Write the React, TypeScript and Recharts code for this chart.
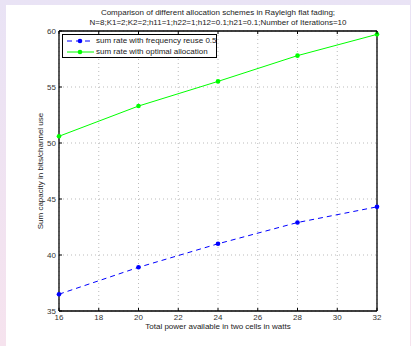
import React from 'react';
import { LineChart, Line, XAxis, YAxis, CartesianGrid } from 'recharts';

const powers = [16, 20, 24, 28, 32];
const reuseRates = [36.5, 38.9, 41.0, 42.9, 44.3];
const optimalRates = [50.6, 53.3, 55.5, 57.8, 59.7];
const xTicks = [16, 18, 20, 22, 24, 26, 28, 30, 32];
const yTicks = [35, 40, 45, 50, 55, 60];
const reuseName = 'sum rate with frequency reuse 0.5';
const optimalName = 'sum rate with optimal allocation';
const titleLine1 = 'Comparison of different allocation schemes in Rayleigh flat fading;';
const titleLine2 = 'N=8;K1=2;K2=2;h11=1;h22=1;h12=0.1;h21=0.1;Number of Iterations=10';
const xLabel = 'Total power available in two cells in watts';
const yLabel = 'Sum capacity in bits/channel use';

const data = powers.map((p, i) => ({ power: p, reuse: reuseRates[i], optimal: optimalRates[i] }));

const FONT = '"Liberation Sans", Arial, sans-serif';
const TM = 3;

const BottomTick = (props: any) => {
  const { x, y, payload } = props;
  const ay = y - TM;
  return (
    <g>
      <line x1={x} x2={x} y1={ay} y2={ay - 3} stroke="#000" strokeWidth={1} />
      <text x={x} y={y + 6} textAnchor="middle" fontSize={8} fill="#333" fontFamily={FONT}>{payload.value}</text>
    </g>
  );
};
const LeftTick = (props: any) => {
  const { x, y, payload } = props;
  const ax = x + TM;
  return (
    <g>
      <line x1={ax} x2={ax + 3} y1={y} y2={y} stroke="#000" strokeWidth={1} />
      <text x={x} y={y + 3} textAnchor="end" fontSize={8} fill="#333" fontFamily={FONT}>{payload.value}</text>
    </g>
  );
};
const TopTick = (props: any) => {
  const { x, y } = props;
  const ay = y + TM;
  return <line x1={x} x2={x} y1={ay} y2={ay + 3} stroke="#000" strokeWidth={1} />;
};
const RightTick = (props: any) => {
  const { x, y } = props;
  const ax = x - TM;
  return <line x1={ax} x2={ax - 3} y1={y} y2={y} stroke="#000" strokeWidth={1} />;
};

const LegendBox = () => (
  <div style={{ position: 'absolute', top: 34, left: 62, width: 153, height: 22, border: '1.3px solid #000', background: '#fff', fontFamily: FONT, fontSize: 8, color: '#222' }}>
    <svg width={30} height={22} style={{ position: 'absolute', left: 3, top: 0 }}>
      <line x1={1} x2={28} y1={6} y2={6} stroke="#0000ff" strokeWidth={1} strokeDasharray="5 4" />
      <circle cx={14} cy={6} r={2.3} fill="#0000ff" />
      <line x1={1} x2={28} y1={17} y2={17} stroke="#00ff00" strokeWidth={1} />
      <circle cx={14} cy={17} r={2.3} fill="#00ff00" />
    </svg>
    <div style={{ position: 'absolute', left: 33, top: 1, whiteSpace: 'nowrap', lineHeight: '10px' }}>{reuseName}</div>
    <div style={{ position: 'absolute', left: 33, top: 12, whiteSpace: 'nowrap', lineHeight: '10px' }}>{optimalName}</div>
  </div>
);

export default function App() {
  return (
    <div style={{ position: 'absolute', left: 0, top: 0, width: 411, height: 346, background: 'linear-gradient(to bottom, #e9e3f5, #f6e3ee)', overflow: 'hidden' }}>
      <div style={{ position: 'absolute', left: 6, top: 5, width: 404, height: 341, background: '#fff' }} />
      <div style={{ position: 'absolute', left: 0, top: 0 }}>
        <LineChart width={411} height={346} data={data} margin={{ top: 30, right: 33, left: 21, bottom: 5 }}>
          <CartesianGrid stroke="#aaa" strokeDasharray="1 3" strokeWidth={0.8} />
          <XAxis dataKey="power" type="number" domain={[16, 32]} ticks={xTicks} height={30} tickSize={0} tickMargin={TM}
            axisLine={{ stroke: '#000', strokeWidth: 1.3 }} tickLine={false} tick={<BottomTick />} interval={0}
            label={{ value: xLabel, position: 'center', fontSize: 8, fill: '#222', fontFamily: FONT }} />
          <XAxis xAxisId="top" orientation="top" dataKey="power" type="number" domain={[16, 32]} ticks={xTicks} height={1} tickSize={0} tickMargin={TM}
            axisLine={{ stroke: '#000', strokeWidth: 1.3 }} tickLine={false} tick={<TopTick />} interval={0} />
          <YAxis type="number" domain={[35, 60]} ticks={yTicks} width={38} tickSize={0} tickMargin={TM}
            axisLine={{ stroke: '#000', strokeWidth: 1.3 }} tickLine={false} tick={<LeftTick />} interval={0}
            label={{ value: yLabel, angle: -90, position: 'center', fontSize: 8, fill: '#222', fontFamily: FONT }} />
          <YAxis yAxisId="right" orientation="right" type="number" domain={[35, 60]} ticks={yTicks} width={1} tickSize={0} tickMargin={TM}
            axisLine={{ stroke: '#000', strokeWidth: 1.3 }} tickLine={false} tick={<RightTick />} interval={0} />
          <Line dataKey="reuse" name={reuseName} stroke="#0000ff" strokeWidth={1} strokeDasharray="5 4" isAnimationActive={false}
            dot={{ r: 2.3, fill: '#0000ff', stroke: '#0000ff', strokeWidth: 0 }} />
          <Line dataKey="optimal" name={optimalName} stroke="#00ff00" strokeWidth={1} isAnimationActive={false}
            dot={{ r: 2.3, fill: '#00ff00', stroke: '#00ff00', strokeWidth: 0 }} />
        </LineChart>
      </div>
      <LegendBox />
      <div style={{ position: 'absolute', left: 0, width: 436, top: 8, textAlign: 'center', fontFamily: FONT, fontSize: 8, lineHeight: '9.5px', color: '#222' }}>
        <div>{titleLine1}</div>
        <div>{titleLine2}</div>
      </div>
    </div>
  );
}
